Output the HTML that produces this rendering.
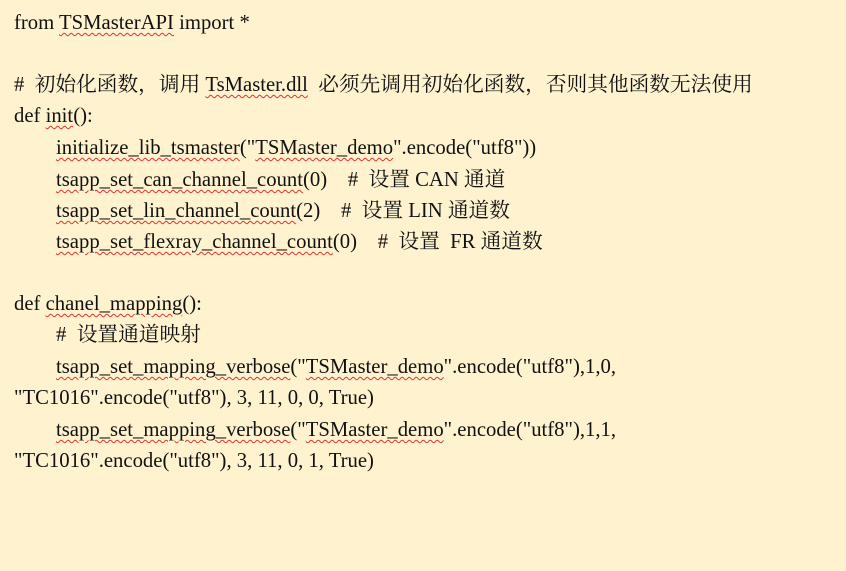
<!DOCTYPE html>
<html><head><meta charset="utf-8"><style>
body{margin:0;width:846px;height:571px;background:#fff2cf;overflow:hidden}
.l{position:absolute;white-space:pre;font-family:"Liberation Serif","Noto Serif CJK SC",serif;font-size:20.7px;line-height:31px;color:#111}
.w{text-decoration:underline wavy #d33;text-decoration-thickness:1px;text-underline-offset:3px}
</style></head><body>
<div class="l" style="left:14px;top:8px">from <span class="w">TSMasterAPI</span> import *</div>
<div class="l" style="left:14px;top:70px">#  初始化函数，调用 <span class="w">TsMaster.dll</span>  必须先调用初始化函数，否则其他函数无法使用</div>
<div class="l" style="left:14px;top:101px">def <span class="w">init</span>():</div>
<div class="l" style="left:56px;top:133px"><span class="w">initialize_lib_tsmaster</span>("<span class="w">TSMaster_demo</span>".encode("utf8"))</div>
<div class="l" style="left:56px;top:165px"><span class="w">tsapp_set_can_channel_count</span>(0)    #  设置 CAN 通道</div>
<div class="l" style="left:56px;top:196px"><span class="w">tsapp_set_lin_channel_count</span>(2)    #  设置 LIN 通道数</div>
<div class="l" style="left:56px;top:227px"><span class="w">tsapp_set_flexray_channel_count</span>(0)    #  设置  FR 通道数</div>
<div class="l" style="left:14px;top:289px">def <span class="w">chanel_mapping</span>():</div>
<div class="l" style="left:56px;top:320px">#  设置通道映射</div>
<div class="l" style="left:56px;top:352px"><span class="w">tsapp_set_mapping_verbose</span>("<span class="w">TSMaster_demo</span>".encode("utf8"),1,0,</div>
<div class="l" style="left:14px;top:383px">"TC1016".encode("utf8"), 3, 11, 0, 0, True)</div>
<div class="l" style="left:56px;top:415px"><span class="w">tsapp_set_mapping_verbose</span>("<span class="w">TSMaster_demo</span>".encode("utf8"),1,1,</div>
<div class="l" style="left:14px;top:446px">"TC1016".encode("utf8"), 3, 11, 0, 1, True)</div>
</body></html>
